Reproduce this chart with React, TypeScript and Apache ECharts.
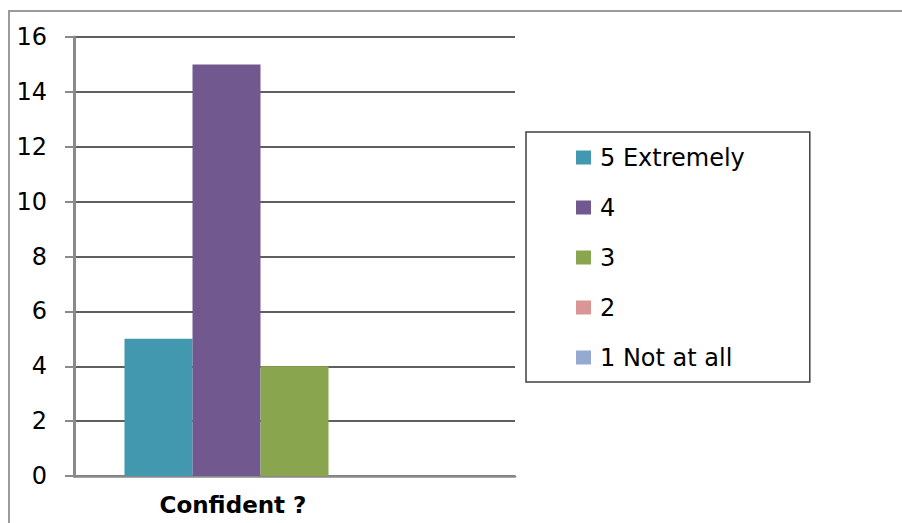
import React, { useEffect, useRef } from "react";
import * as echarts from "echarts";

const categories = ["Confident ?"];
const seriesNames = ["5 Extremely", "4", "3", "2", "1 Not at all"];
const seriesValues = [[5], [15], [4], [0], [0]];
const seriesColors = ["#4198AF", "#71588F", "#89A54E", "#D99694", "#95AAD1"];
const yTicks = { min: 0, max: 16, interval: 2 };

export default function App() {
  const ref = useRef<HTMLDivElement>(null);
  useEffect(() => {
    if (!ref.current) return;
    const chart = echarts.init(ref.current, null, { renderer: "svg" });
    chart.setOption({
      animation: false,
      backgroundColor: "#ffffff",
      textStyle: { fontFamily: "DejaVu Sans, Liberation Sans, Arial, sans-serif" },
      graphic: [
        {
          type: "rect",
          shape: { x: 9, y: 11, width: 1000, height: 1000 },
          style: { fill: "none", stroke: "#9a9a9a", lineWidth: 2 },
          silent: true,
        },
      ],
      grid: { left: 74, right: 387, top: 37, bottom: 47 },
      xAxis: {
        type: "category",
        data: categories,
        axisLine: { lineStyle: { color: "#8a8a8a", width: 2.5 } },
        axisTick: { show: false },
        axisLabel: {
          color: "#000",
          fontSize: 23,
          fontWeight: "bold",
          margin: 17,
          padding: [0, 123, 0, 0],
        },
      },
      yAxis: {
        type: "value",
        min: yTicks.min,
        max: yTicks.max,
        interval: yTicks.interval,
        axisLine: { show: true, lineStyle: { color: "#8a8a8a", width: 3 } },
        axisTick: { show: true, length: 9, lineStyle: { color: "#8a8a8a", width: 2 } },
        axisLabel: { color: "#000", fontSize: 24, margin: 27 },
        splitLine: { lineStyle: { color: "#2a2a2a", width: 1.5 } },
      },
      legend: {
        orient: "vertical",
        left: 526,
        top: 132,
        padding: [13.5, 65, 12.5, 50],
        borderColor: "#404040",
        borderWidth: 1.5,
        itemWidth: 15,
        itemHeight: 14,
        itemGap: 26,
        icon: "rect",
        textStyle: { color: "#000", fontSize: 24, lineHeight: 24, padding: [0, 0, 0, 4] },
        data: seriesNames,
      },
      series: seriesNames.map((name, i) => ({
        name,
        type: "bar",
        data: seriesValues[i],
        barWidth: 68,
        barGap: "0%",
        itemStyle: { color: seriesColors[i] },
      })),
    });
    return () => chart.dispose();
  }, []);
  return (
    <div
      ref={ref}
      style={{ position: "absolute", left: 0, top: 0, width: 902, height: 523 }}
    />
  );
}
